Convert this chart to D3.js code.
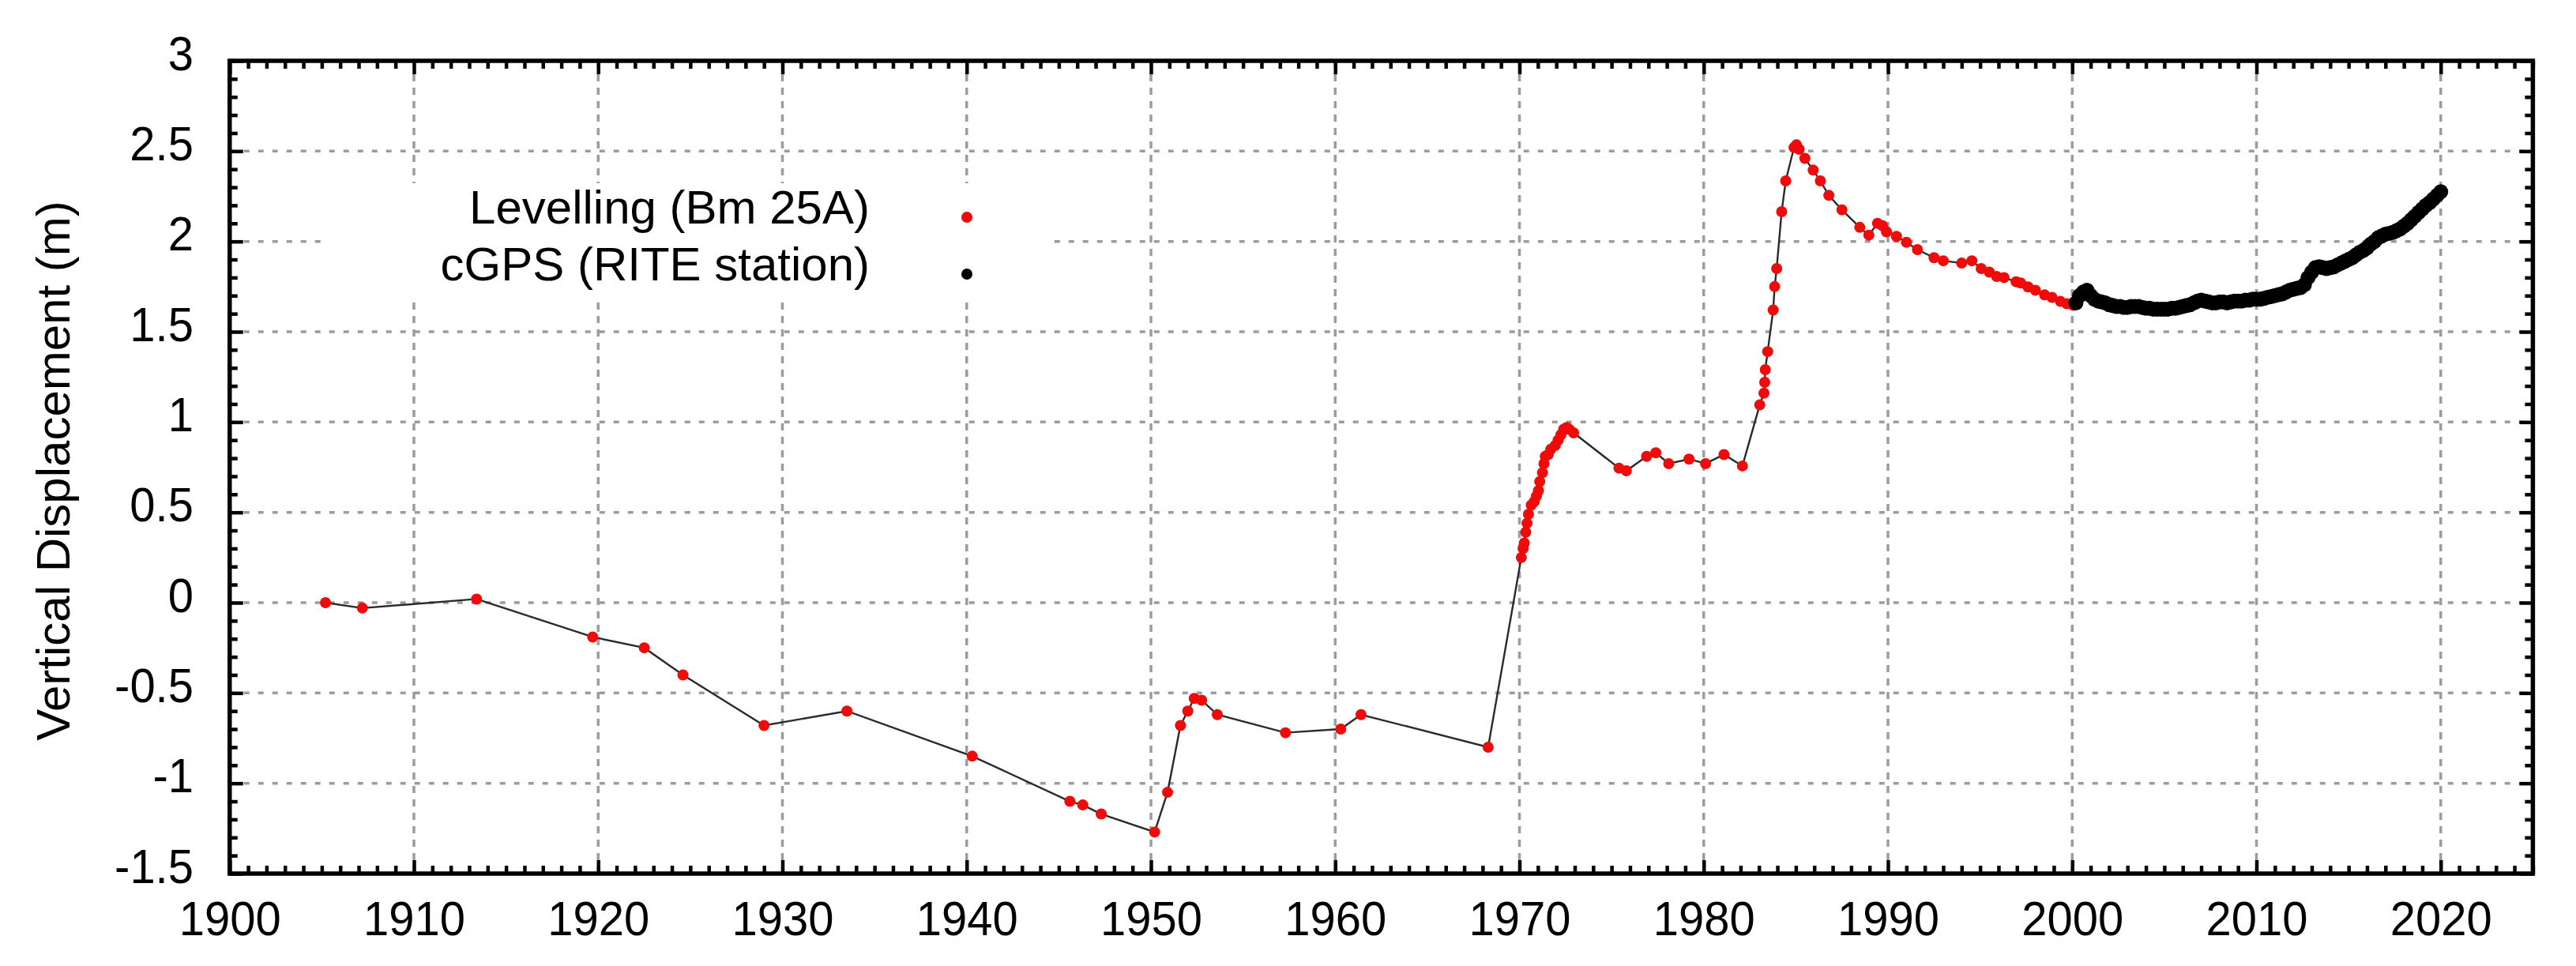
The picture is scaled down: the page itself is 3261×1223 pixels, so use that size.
<!DOCTYPE html>
<html><head><meta charset="utf-8">
<script src="https://cdn.jsdelivr.net/npm/d3@7"></script>
<style>body{margin:0;background:#fff}svg{display:block}</style>
</head><body><svg id="c" width="3261" height="1223"></svg>
<script>
// ---------------- data ----------------
const levYears = [1905.2,1907.2,1913.4,1919.7,1922.5,1924.6,1929.0,1933.5,1940.3,1945.6,1946.3,1947.3,
  1950.2,1950.9,1951.6,1952.0,1952.35,1952.75,1953.6,1957.3,1960.3,1961.4,1968.3,
  1970.1,1970.2,1970.26,1970.34,1970.41,1970.49,1970.64,1970.8,1970.92,1971.03,1971.1,1971.25,1971.33,
  1971.4,1971.56,1971.7,1971.94,1972.1,1972.25,1972.4,1972.56,1972.7,1972.94,
  1975.4,1975.8,1976.9,1977.4,1978.1,1979.2,1980.1,1981.1,1982.1,
  1983.04,1983.27,1983.31,1983.34,1983.47,1983.77,1983.85,1983.96,1984.23,1984.45,1984.9,1985.03,
  1985.18,1985.49,1985.94,1986.33,1986.79,1987.5,1988.47,1988.96,1989.43,1989.7,1989.92,1990.46,
  1991.0,1991.6,1992.5,1993.0,1994.0,1994.55,1995.06,1995.5,1995.9,1996.3,1996.95,1997.2,1997.6,
  1998.0,1998.5,1998.9,1999.36,1999.7,2000.05];
const levValues = [0.00,-0.03,0.02,-0.19,-0.25,-0.40,-0.68,-0.60,-0.85,-1.10,-1.12,-1.17,
  -1.27,-1.05,-0.68,-0.60,-0.53,-0.54,-0.62,-0.72,-0.70,-0.62,-0.80,
  0.25,0.30,0.33,0.39,0.44,0.49,0.54,0.56,0.59,0.62,0.67,0.72,0.77,
  0.81,0.82,0.85,0.87,0.90,0.93,0.96,0.97,0.96,0.94,
  0.745,0.73,0.81,0.83,0.77,0.795,0.77,0.82,0.757,
  1.095,1.16,1.22,1.29,1.39,1.62,1.75,1.85,2.165,2.335,2.52,2.535,
  2.51,2.46,2.395,2.335,2.255,2.175,2.078,2.035,2.10,2.087,2.053,2.028,
  1.995,1.955,1.91,1.893,1.88,1.893,1.85,1.83,1.806,1.80,1.777,1.77,1.748,
  1.73,1.704,1.69,1.668,1.655,1.646];

const gpsYears = [2000.2,2000.4,2000.6,2000.8,2001.0,2001.2,2001.4,2001.6,2001.8,2002.0,
  2002.2,2002.4,2002.6,2002.8,2003.0,2003.2,2003.4,2003.6,2003.8,2004.0,
  2004.2,2004.4,2004.6,2004.8,2005.0,2005.2,2005.4,2005.6,2005.8,2006.0,
  2006.2,2006.4,2006.6,2006.8,2007.0,2007.2,2007.4,2007.6,2007.8,2008.0,
  2008.2,2008.4,2008.6,2008.8,2009.0,2009.2,2009.4,2009.6,2009.8,2010.0,
  2010.2,2010.4,2010.6,2010.8,2011.0,2011.2,2011.4,2011.6,2011.8,2012.0,
  2012.2,2012.4,2012.6,2012.8,2013.0,2013.2,2013.4,2013.6,2013.8,2014.0,
  2014.2,2014.4,2014.6,2014.8,2015.0,2015.2,2015.4,2015.6,2015.8,2016.0,
  2016.2,2016.4,2016.6,2016.8,2017.0,2017.2,2017.4,2017.6,2017.8,2018.0,
  2018.2,2018.4,2018.6,2018.8,2019.0,2019.2,2019.4,2019.6,2019.8,2020.0];
const gpsValues = [1.66,1.70,1.72,1.73,1.70,1.68,1.67,1.665,1.66,1.65,
  1.645,1.64,1.64,1.635,1.635,1.64,1.64,1.64,1.635,1.63,
  1.63,1.625,1.625,1.625,1.625,1.625,1.63,1.63,1.635,1.64,
  1.645,1.65,1.66,1.67,1.675,1.67,1.665,1.66,1.66,1.665,
  1.665,1.66,1.665,1.67,1.67,1.67,1.675,1.675,1.68,1.68,
  1.68,1.685,1.69,1.695,1.70,1.705,1.71,1.72,1.73,1.735,
  1.74,1.745,1.76,1.80,1.83,1.855,1.86,1.855,1.85,1.855,
  1.86,1.87,1.88,1.89,1.90,1.91,1.925,1.94,1.95,1.965,
  1.985,2.00,2.02,2.03,2.04,2.045,2.05,2.06,2.07,2.085,
  2.10,2.12,2.14,2.16,2.18,2.20,2.215,2.235,2.255,2.275];

const xTicks = [1900,1910,1920,1930,1940,1950,1960,1970,1980,1990,2000,2010,2020];
const yTicks = [-1.5,-1,-0.5,0,0.5,1,1.5,2,2.5,3];
const yTickLabels = ["-1.5","-1","-0.5","0","0.5","1","1.5","2","2.5","3"];
const seriesNames = ["Levelling (Bm 25A)","cGPS (RITE station)"];
const seriesColors = ["#f00a0a","#000000"];
const yTitle = "Vertical Displacement (m)";

// ---------------- layout ----------------
const L = 290.75, R = 3206.4, T = 77, B = 1106;
const FONT = "'Liberation Sans', Arial, Helvetica, sans-serif";
const svg = d3.select("#c");
const x = d3.scaleLinear().domain([1900,2025]).range([L,R]);
const y = d3.scaleLinear().domain([-1.5,3]).range([B,T]);

svg.append("rect").attr("width",3261).attr("height",1223).attr("fill","#fff");

// grid
const grid = svg.append("g").attr("stroke","#9c9c9c").attr("stroke-width",3.5).attr("fill","none");
grid.selectAll(".gv").data(xTicks).join("line")
  .attr("x1",d=>x(d)).attr("x2",d=>x(d)).attr("y1",T).attr("y2",B)
  .attr("stroke-dasharray","9,8");
grid.selectAll(".gh").data(yTicks).join("line")
  .attr("x1",L).attr("x2",R).attr("y1",d=>y(d)).attr("y2",d=>y(d))
  .attr("stroke-dasharray","7,11");

// legend box (opaque)
svg.append("rect").attr("x",408).attr("y",232).attr("width",922).attr("height",149).attr("fill","#fff");

// data
const lev = levYears.map((t,i)=>[t,levValues[i]]);
const gps = gpsYears.map((t,i)=>[t,gpsValues[i]]);
const line = d3.line().x(d=>x(d[0])).y(d=>y(d[1]));
svg.append("path").datum(lev).attr("d",line).attr("fill","none").attr("stroke","#2a2a2a").attr("stroke-width",2.4);
svg.append("g").selectAll("circle").data(lev).join("circle")
  .attr("cx",d=>x(d[0])).attr("cy",d=>y(d[1])).attr("r",7).attr("fill",seriesColors[0]);
svg.append("path").datum(gps).attr("d",line).attr("fill","none").attr("stroke","#000").attr("stroke-width",2.4);
svg.append("g").selectAll("circle").data(gps).join("circle")
  .attr("cx",d=>x(d[0])).attr("cy",d=>y(d[1])).attr("r",9.5).attr("fill",seriesColors[1]);

// legend
const legY = [283,355];
seriesNames.forEach((n,i)=>{
  svg.append("text").attr("x",1101).attr("y",legY[i]).attr("text-anchor","end")
    .attr("font-family",FONT).attr("font-size",60).attr("fill","#000").text(n);
  svg.append("circle").attr("cx",1224).attr("cy",legY[i]-8).attr("r",7).attr("fill",seriesColors[i]);
});

// axes / ticks (inward, mirrored)
const minorX = d3.range(1900,2026,1).filter(v=>v%10!==0);
const minorY = d3.range(-15,31,1).map(v=>v/10).filter(v=>Math.abs(v*2-Math.round(v*2))>1e-6);
function styleAxis(g){ g.select(".domain").remove(); g.selectAll("line").attr("stroke","#000").attr("stroke-width",4.5); }

svg.append("g").attr("transform",`translate(0,${B})`).call(d3.axisBottom(x).tickValues(minorX).tickSize(-10).tickFormat("")).call(styleAxis);
svg.append("g").attr("transform",`translate(0,${T})`).call(d3.axisTop(x).tickValues(minorX).tickSize(-10).tickFormat("")).call(styleAxis);
svg.append("g").attr("transform",`translate(0,${T})`).call(d3.axisTop(x).tickValues(xTicks).tickSize(-17).tickFormat("")).call(styleAxis);
const bx = svg.append("g").attr("transform",`translate(0,${B})`)
  .call(d3.axisBottom(x).tickValues(xTicks).tickSize(-17).tickFormat(d3.format("d"))).call(styleAxis);
bx.selectAll("text").attr("y",78).attr("dy",null).attr("transform","scale(0.935,1)")
  .attr("font-family",FONT).attr("font-size",62).attr("fill","#000");

svg.append("g").attr("transform",`translate(${L},0)`).call(d3.axisLeft(y).tickValues(minorY).tickSize(-10).tickFormat("")).call(styleAxis);
svg.append("g").attr("transform",`translate(${R},0)`).call(d3.axisRight(y).tickValues(minorY).tickSize(-10).tickFormat("")).call(styleAxis);
svg.append("g").attr("transform",`translate(${R},0)`).call(d3.axisRight(y).tickValues(yTicks).tickSize(-17).tickFormat("")).call(styleAxis);
const ly = svg.append("g").attr("transform",`translate(${L},0)`)
  .call(d3.axisLeft(y).tickValues(yTicks).tickSize(-17).tickFormat((d,i)=>yTickLabels[i])).call(styleAxis);
ly.selectAll("text").attr("x",-49).attr("y",11).attr("dy",null).attr("transform","scale(0.935,1)")
  .attr("font-family",FONT).attr("font-size",62).attr("fill","#000");

// frame
svg.append("rect").attr("x",L).attr("y",T).attr("width",R-L).attr("height",B-T)
  .attr("fill","none").attr("stroke","#000").attr("stroke-width",5.5);

// y title
svg.append("text").attr("transform",`translate(88,596) rotate(-90)`).attr("text-anchor","middle")
  .attr("font-family",FONT).attr("font-size",60).attr("fill","#000").text(yTitle);
</script></body></html>
